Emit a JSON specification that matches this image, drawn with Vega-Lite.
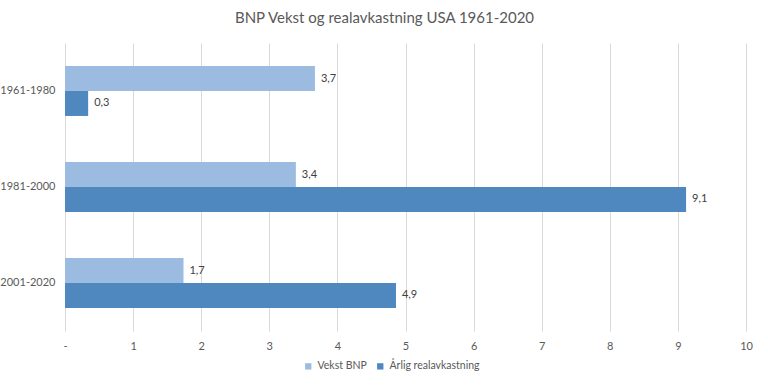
{
  "$schema": "https://vega.github.io/schema/vega-lite/v6.json",
  "autosize": "none",
  "width": 681,
  "height": 288,
  "padding": {"left": 65, "top": 43, "right": 22, "bottom": 55},
  "background": "white",
  "config": {
    "locale": {"number": {"decimal": ",", "thousands": " ", "grouping": [3], "currency": ["", " kr"]}},
    "view": {"stroke": null},
    "font": "Lato"
  },
  "title": {
    "text": "BNP Vekst og realavkastning USA 1961-2020",
    "fontSize": 15,
    "fontWeight": "normal",
    "color": "#595959",
    "font": "Lato",
    "offset": 17,
    "dx": -21
  },
  "data": {
    "values": [
      {"Periode": "1961-1980", "Serie": "Vekst BNP", "Verdi": 3.67},
      {"Periode": "1961-1980", "Serie": "Årlig realavkastning", "Verdi": 0.34},
      {"Periode": "1981-2000", "Serie": "Vekst BNP", "Verdi": 3.39},
      {"Periode": "1981-2000", "Serie": "Årlig realavkastning", "Verdi": 9.12},
      {"Periode": "2001-2020", "Serie": "Vekst BNP", "Verdi": 1.74},
      {"Periode": "2001-2020", "Serie": "Årlig realavkastning", "Verdi": 4.86}
    ]
  },
  "encoding": {
    "y": {
      "field": "Periode",
      "type": "nominal",
      "sort": ["1961-1980", "1981-2000", "2001-2020"],
      "scale": {"paddingInner": 0.48, "paddingOuter": 0.24},
      "axis": {
        "title": null,
        "domain": false,
        "ticks": false,
        "labelPadding": 10,
        "labelFontSize": 11,
        "labelColor": "#595959",
        "labelFont": "Lato"
      }
    },
    "yOffset": {
      "field": "Serie",
      "type": "nominal",
      "sort": ["Vekst BNP", "Årlig realavkastning"]
    },
    "x": {
      "field": "Verdi",
      "type": "quantitative",
      "scale": {"domain": [0, 10], "nice": false},
      "axis": {
        "title": null,
        "domain": false,
        "ticks": false,
        "values": [0, 1, 2, 3, 4, 5, 6, 7, 8, 9, 10],
        "labelOverlap": false,
        "labelFlush": false,
        "labelExpr": "datum.value == 0 ? '-' : datum.label",
        "grid": true,
        "gridColor": "#D9D9D9",
        "gridWidth": 1,
        "labelPadding": 9,
        "labelFontSize": 11,
        "labelColor": "#595959",
        "labelFont": "Lato"
      }
    }
  },
  "layer": [
    {
      "mark": {"type": "bar"},
      "encoding": {
        "color": {
          "field": "Serie",
          "type": "nominal",
          "sort": ["Vekst BNP", "Årlig realavkastning"],
          "scale": {"domain": ["Vekst BNP", "Årlig realavkastning"], "range": ["#9BBBE0", "#4E88BE"]},
          "legend": {
            "title": null,
            "orient": "none",
            "direction": "horizontal",
            "legendX": 238,
            "legendY": 318,
            "symbolType": "square",
            "symbolSize": 40,
            "labelFontSize": 10.5,
            "labelColor": "#595959",
            "labelFont": "Lato",
            "columnPadding": 8,
            "labelOffset": 4
          }
        }
      }
    },
    {
      "mark": {"type": "text", "align": "left", "baseline": "middle", "dx": 6, "fontSize": 11, "color": "#404040", "font": "Lato"},
      "encoding": {
        "text": {"field": "Verdi", "type": "quantitative", "format": ".1f"}
      }
    }
  ]
}
